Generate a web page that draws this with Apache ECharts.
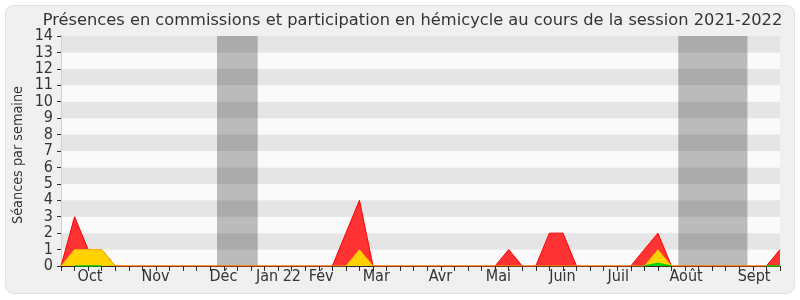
<!DOCTYPE html>
<html>
<head>
<meta charset="utf-8">
<script src="https://cdn.jsdelivr.net/npm/echarts@6/dist/echarts.min.js"></script>
<style>
html,body{margin:0;padding:0;background:#ffffff;}
#chart{width:800px;height:300px;}
</style>
</head>
<body>
<div id="chart"></div>
<script>
// Weekly data, index 0..53 (one point per week of the 2021-2022 session)
var weeks = [];
for (var i = 0; i <= 53; i++) weeks.push(i);

var commissions = [0,3,1,1,0,0,0,0,0,0,0,0,0,0,0,0,0,0,0,0,0,2,4,0,0,0,0,0,0,0,0,0,0,1,0,0,2,2,0,0,0,0,0,1,2,0,0,0,0,0,0,0,0,1];
var interventions = [0,1,1,1,0,0,0,0,0,0,0,0,0,0,0,0,0,0,0,0,0,0,1,0,0,0,0,0,0,0,0,0,0,0,0,0,0,0,0,0,0,0,0,0,1,0,0,0,0,0,0,0,0,0];
var hemicycle = [null,0,0,0,null,null,null,null,null,null,null,null,null,null,null,null,null,null,null,null,null,null,null,null,null,null,null,null,null,null,null,null,null,null,null,null,null,null,null,null,null,null,null,0,0.15,0,null,null,null,null,null,null,0,0];

var monthLabelPos = [2.14, 6.97, 11.97, 16.03, 19.18, 23.24, 27.97, 32.24, 36.96, 41.08, 46.08, 51.09];
var monthLabels = ['Oct','Nov','Déc','Jan 22','Fév','Mar','Avr','Mai','Juin','Juil','Août','Sept'];

var vacances = [[11.5, 14.5], [45.5, 50.6]];

var title = 'Présences en commissions et participation en hémicycle au cours de la session 2021-2022';
var yName = 'Séances par semaine';

function pairs(arr){ return arr.map(function(v,i){ return [weeks[i], v]; }); }

var chart = echarts.init(document.getElementById('chart'), null, {renderer:'canvas'});
var font = '"DejaVu Sans", Verdana, sans-serif';
var fontC = '"DejaVu Sans Condensed", "DejaVu Sans", sans-serif';
chart.setOption({
  animation:false,
  backgroundColor:'transparent',
  graphic:[
    {type:'rect', z:-10, shape:{x:5.5,y:5.5,width:789,height:288,r:8}, style:{fill:'#f0f0f0', stroke:'#e2e2e2', lineWidth:1}},
    {type:'text', x:18, y:155, rotation:Math.PI/2, style:{text:yName, fill:'#333', font:'14.3px ' + fontC, textAlign:'center', textVerticalAlign:'middle'}}
  ],
  title:{text:title, left:407.5, textAlign:'center', top:8, textStyle:{fontFamily:font, fontSize:16.25, fontWeight:'normal', color:'#333'}},
  grid:{left:61, right:20, top:36, bottom:34, containLabel:false},
  xAxis:[{
    type:'value', min:0, max:53, interval:1,
    axisLine:{show:true, lineStyle:{color:'#3a2626', width:1}},
    axisTick:{show:true, length:5, lineStyle:{color:'#333'}},
    axisLabel:{color:'#333', fontFamily:fontC, fontSize:16, margin:3,
      customValues:monthLabelPos,
      formatter:function(v){ var k = monthLabelPos.indexOf(v); return k>=0 ? monthLabels[k] : ''; }},
    splitLine:{show:false}
  },{
    type:'value', position:'top', min:0, max:53, interval:1,
    axisLine:{show:false},
    axisTick:{show:true, inside:true, length:1.5, lineStyle:{color:'#000'}},
    axisLabel:{show:false}, splitLine:{show:false}
  }],
  yAxis:[{
    type:'value', min:0, max:14, interval:1,
    axisLine:{show:true, lineStyle:{color:'#333'}},
    axisTick:{show:true, length:4, lineStyle:{color:'#333'}},
    axisLabel:{color:'#333', fontFamily:fontC, fontSize:16, margin:8},
    splitLine:{show:false},
    splitArea:{show:true, areaStyle:{color:['#fafafa','#e5e5e5']}}
  },{
    type:'value', position:'right', min:0, max:14,
    axisLine:{show:true, lineStyle:{color:'#d0d0d0'}},
    axisTick:{show:false}, axisLabel:{show:false}, splitLine:{show:false}
  }],
  series:[{
    type:'line', data:pairs(commissions), showSymbol:false, z:2,
    lineStyle:{color:'#ff0000', width:1}, areaStyle:{color:'#ff3333', opacity:1},
    markArea:{silent:true, itemStyle:{color:'rgba(0,0,0,0.25)'}, data:vacances.map(function(r){return [{xAxis:r[0]},{xAxis:r[1]}];})}
  },{
    type:'line', data:pairs(interventions), showSymbol:false, z:3,
    lineStyle:{color:'#ffb000', width:1}, areaStyle:{color:'#ffd200', opacity:1}
  },{
    type:'line', data:pairs(hemicycle), showSymbol:false, z:4, connectNulls:false,
    lineStyle:{color:'#00cc00', width:1.5}, areaStyle:{color:'#00dd00', opacity:1}
  }]
});
</script>
</body>
</html>
